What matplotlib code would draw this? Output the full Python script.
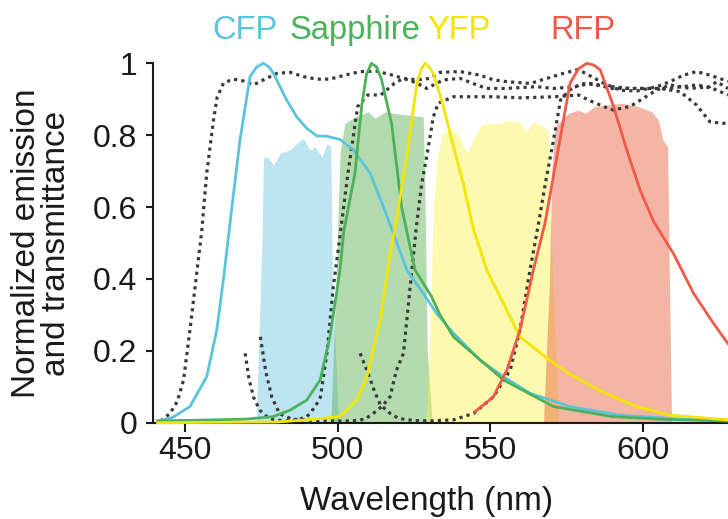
import matplotlib
matplotlib.use("Agg")
import matplotlib.pyplot as plt

plt.rcParams['font.family'] = ['Liberation Sans', 'DejaVu Sans']

# ---- emission spectra (normalized) ----
cfp_x = [441, 446, 451.6, 457.1, 460.4, 462.6, 464.8, 468, 471.3, 473.5, 475.7, 477.5, 479, 483.3,
         486.6, 489.9, 493.2, 496.5, 500.8, 505.2, 510.7, 515, 518.3, 522.7, 528.1, 532.5, 538,
         546.7, 554.4, 563.1, 576.2, 592.6, 609, 628]
cfp_y = [0.005, 0.015, 0.045, 0.128, 0.258, 0.40, 0.56, 0.786, 0.963, 0.99, 1.0, 0.99, 0.972, 0.898,
         0.851, 0.819, 0.798, 0.797, 0.788, 0.759, 0.694, 0.601, 0.527, 0.425, 0.36, 0.304, 0.249,
         0.174, 0.128, 0.082, 0.045, 0.021, 0.012, 0.005]

sap_x = [441, 460, 470, 478.9, 484.4, 489.9, 494.3, 497.5, 500.8, 502, 505.7, 507.9, 509.5, 511.1,
         512.8, 514.4, 517.7, 521, 523.5, 525.4, 530.8, 533.6, 538, 554.4, 570.8, 590, 610, 628]
sap_y = [0.005, 0.008, 0.01, 0.017, 0.035, 0.063, 0.119, 0.239, 0.425, 0.53, 0.694, 0.88, 0.97, 1.0,
         0.99, 0.955, 0.833, 0.6, 0.5, 0.425, 0.351, 0.3, 0.239, 0.119, 0.045, 0.017, 0.008, 0.005]

yfp_x = [441, 480, 489.9, 500.8, 506.3, 509.6, 514, 517.2, 518.6, 522.7, 526, 527.5, 528.7, 530,
         531.4, 534.7, 538, 541.2, 544.5, 548.9, 554.4, 559.8, 568.6, 576.2, 587, 598, 609, 628]
yfp_y = [0.0, 0.002, 0.008, 0.017, 0.063, 0.128, 0.286, 0.471, 0.53, 0.74, 0.944, 0.985, 1.0, 0.99,
         0.972, 0.88, 0.768, 0.666, 0.54, 0.425, 0.332, 0.239, 0.18, 0.135, 0.085, 0.045, 0.021, 0.008]

rfp_x = [545.1, 551.1, 555.5, 559.8, 564.2, 568, 571.9, 576.2, 579, 581.7, 584, 586.1, 590.5, 594.8,
         599.2, 603.6, 610.1, 616.7, 623.2, 628]
rfp_y = [0.031, 0.072, 0.147, 0.258, 0.425, 0.555, 0.74, 0.944, 0.985, 1.0, 0.995, 0.982, 0.88, 0.759,
         0.647, 0.56, 0.471, 0.36, 0.277, 0.22]

# ---- emission filter bands (transmittance) ----
cfp_band_x = [473.3, 475.2, 475.7, 477, 479, 481.2, 484.4, 486.6, 488.8, 491, 492.6, 494.9, 496.5,
              497.8, 498.3, 500.3]
cfp_band_y = [0, 0.5, 0.736, 0.74, 0.717, 0.75, 0.759, 0.777, 0.791, 0.759, 0.768, 0.74, 0.777,
              0.768, 0.4, 0]

sap_band_x = [497.8, 499.5, 500.8, 502.4, 505.7, 510.1, 512.3, 515.5, 519, 523.2, 528.1, 528.7,
              529.4, 531]
sap_band_y = [0, 0.4, 0.75, 0.833, 0.851, 0.865, 0.847, 0.865, 0.86, 0.856, 0.851, 0.6, 0.2, 0]

yfp_band_x = [529, 530.5, 531.4, 532.6, 534.3, 537.5, 539.7, 542.3, 545.1, 547.3, 552.8, 557.1,
              560.3, 562, 564.2, 567.4, 569.1, 569.6, 571.5, 572.5]
yfp_band_y = [0, 0.3, 0.6, 0.731, 0.805, 0.814, 0.8, 0.75, 0.797, 0.83, 0.833, 0.842,
              0.833, 0.81, 0.838, 0.824, 0.814, 0.6, 0.2, 0]

rfp_band_x = [567.5, 569.5, 570.2, 571.3, 575.7, 578.9, 581.1, 584.4, 588.7, 593.1, 598.5, 603,
              605.2, 606.6, 608.2, 608.6, 609.5]
rfp_band_y = [0, 0.4, 0.7, 0.824, 0.861, 0.87, 0.861, 0.88, 0.884, 0.889, 0.88, 0.865,
              0.842, 0.787, 0.768, 0.5, 0]

# ---- dichroic / filter edges (dotted) ----
d1_x = [442, 445.1, 447.5, 449.5, 451.6, 453.3, 455.5, 457.1, 459.3, 460.5, 462.6, 465.8, 469.1,
        472.4, 475.7, 480.1, 484.4, 488.8, 493.2, 497.5, 501.9, 507.4, 512.8, 517.2, 521.6, 526,
        530.3, 533.6, 540.2, 546.7, 551.1, 555.5, 563.1, 568.6, 574, 578.4, 580.6, 587.2, 592.6,
        598.1, 604.7, 609, 613.4, 617.7, 622.1, 628]
d1_y = [0.005, 0.026, 0.06, 0.119, 0.258, 0.378, 0.536, 0.694, 0.84, 0.905, 0.945, 0.956, 0.951,
        0.94, 0.954, 0.972, 0.975, 0.963, 0.956, 0.956, 0.966, 0.977, 0.978, 0.969, 0.958, 0.954,
        0.958, 0.975, 0.977, 0.967, 0.954, 0.949, 0.944, 0.958, 0.972, 0.982, 0.975, 0.945, 0.925,
        0.923, 0.935, 0.949, 0.967, 0.977, 0.967, 0.95]

d2_x = [469.7, 471, 472.5, 474.5, 476.8, 479, 483, 487, 489.9, 491, 493, 494.4, 496.5, 498.6,
        500.5, 503.4, 506.6, 509.9, 514.2, 518.6, 521.6, 526, 529.2, 534.7, 540.2, 545.6, 548.9,
        555, 565.3, 570.8, 578, 583, 590, 600, 606, 612.3, 617.7, 622.1, 626.5, 628]
d2_y = [0.193, 0.12, 0.07, 0.035, 0.017, 0.008, 0.005, 0.008, 0.017, 0.026, 0.05, 0.072, 0.193,
        0.378, 0.5, 0.694, 0.88, 0.912, 0.912, 0.944, 0.958, 0.945, 0.93, 0.954, 0.958, 0.94, 0.93,
        0.93, 0.935, 0.93, 0.935, 0.944, 0.93, 0.93, 0.93, 0.921, 0.884, 0.837, 0.833, 0.835]

d3_x = [474.7, 476.5, 478.5, 481, 485, 495, 505, 509, 511.7, 514.5, 517.2, 519.3, 521.6, 523.8,
        525.9, 527.5, 529.2, 531.4, 533, 538, 544, 550.5, 560.3, 571.1, 578.9, 583, 587.2, 590.4,
        595.9, 600.3, 604.7, 609, 615.6, 622.1, 624.3, 628]
d3_y = [0.239, 0.14, 0.07, 0.025, 0.01, 0.005, 0.005, 0.01, 0.026, 0.045, 0.072, 0.146, 0.193,
        0.378, 0.55, 0.66, 0.74, 0.851, 0.889, 0.907, 0.907, 0.907, 0.904, 0.907, 0.912, 0.895,
        0.88, 0.87, 0.88, 0.903, 0.926, 0.94, 0.93, 0.935, 0.949, 0.93]

d4_x = [507.4, 509.6, 512, 514, 517.2, 520, 525, 530, 538, 544.6, 551.1, 556.6, 559.8, 563.1,
        566, 568, 570.8, 573.1, 576, 580, 585, 590, 596, 602, 608, 613, 618, 623, 628]
d4_y = [0.193, 0.146, 0.09, 0.05, 0.026, 0.012, 0.006, 0.005, 0.008, 0.026, 0.072, 0.147, 0.258,
        0.425, 0.56, 0.66, 0.787, 0.898, 0.925, 0.944, 0.94, 0.935, 0.93, 0.93, 0.93, 0.935, 0.94,
        0.93, 0.912]

names = ["CFP", "Sapphire", "YFP", "RFP"]
name_pos = [0.3365, 0.4876, 0.6305, 0.8008]

# colours
c_cfp = "#5BC4DA"
c_sap = "#4DB15A"
c_yfp = "#F2E600"
c_rfp = "#F15A4A"

fig = plt.figure(figsize=(7.28, 5.19), dpi=100)
ax = fig.add_axes([0.2102, 0.1855, 0.7898, 0.6925])

# filter bands
ax.fill_between(cfp_band_x, cfp_band_y, color="#5BC0DE", alpha=0.4, lw=0, zorder=1)
ax.fill_between(sap_band_x, sap_band_y, color="#58B14F", alpha=0.45, lw=0, zorder=1)
ax.fill_between(yfp_band_x, yfp_band_y, color="#FAF039", alpha=0.4, lw=0, zorder=1)
ax.fill_between(rfp_band_x, rfp_band_y, color="#E75B37", alpha=0.45, lw=0, zorder=1)

# dotted transmittance curves
for dx, dy in [(d1_x, d1_y), (d2_x, d2_y), (d3_x, d3_y), (d4_x, d4_y)]:
    ax.plot(dx, dy, color="#3a3a3a", lw=2.3, linestyle=(0, (1, 1.3)),
            zorder=2, clip_on=False)

# emission spectra
ax.plot(cfp_x, cfp_y, color=c_cfp, lw=2.0, zorder=3, clip_on=False)
ax.plot(sap_x, sap_y, color=c_sap, lw=2.0, zorder=3, clip_on=False)
ax.plot(yfp_x, yfp_y, color=c_yfp, lw=2.0, zorder=3, clip_on=False)
ax.plot(rfp_x, rfp_y, color=c_rfp, lw=2.0, zorder=3, clip_on=False)

ax.set_xlim(439.5, 628)
ax.set_ylim(0, 1)
ax.set_xticks([450, 500, 550, 600])
ax.set_yticks([0, 0.2, 0.4, 0.6, 0.8, 1])
ax.set_yticklabels(["0", "0.2", "0.4", "0.6", "0.8", "1"])

for s in ["top", "right"]:
    ax.spines[s].set_visible(False)
for s in ["left", "bottom"]:
    ax.spines[s].set_linewidth(1.5)
    ax.spines[s].set_color("#1a1a1a")

ax.tick_params(axis="y", length=5, width=1.5, pad=6.5, labelsize=23, colors="#1a1a1a")
ax.tick_params(axis="x", length=6.5, width=1.5, pad=3, labelsize=23, colors="#1a1a1a")

ax.set_xlabel("Wavelength (nm)", fontsize=24, color="#1a1a1a")
ax.xaxis.set_label_coords(0.475, -0.175)
ax.set_ylabel("Normalized emission\nand transmittance", fontsize=24,
              linespacing=0.95, color="#1a1a1a")
ax.yaxis.set_label_coords(-0.141, 0.5)

for name, xp, col in zip(names, name_pos, [c_cfp, c_sap, c_yfp, c_rfp]):
    fig.text(xp, 0.942, name, color=col, fontsize=23.5, ha="center", va="center")

fig.savefig("out.png", dpi=100)
